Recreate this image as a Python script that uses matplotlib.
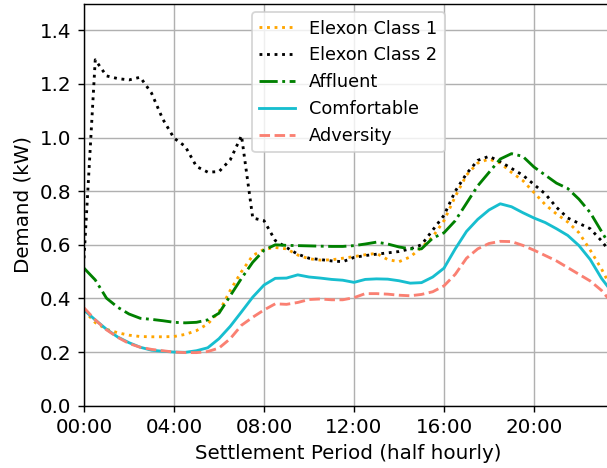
import matplotlib
matplotlib.use("Agg")
import matplotlib.pyplot as plt
import numpy as np

periods = np.arange(48)
tick_pos = [0, 8, 16, 24, 32, 40]
tick_labels = ["00:00", "04:00", "08:00", "12:00", "16:00", "20:00"]

elexon1 = [0.355, 0.31, 0.285, 0.272, 0.263, 0.258, 0.257, 0.257, 0.258, 0.266,
           0.28, 0.305, 0.35, 0.43, 0.50, 0.56, 0.583, 0.59, 0.585, 0.562,
           0.548, 0.543, 0.544, 0.55, 0.556, 0.563, 0.568, 0.545, 0.537, 0.555,
           0.59, 0.63, 0.69, 0.78, 0.86, 0.905, 0.92, 0.905, 0.87, 0.84,
           0.795, 0.75, 0.715, 0.685, 0.645, 0.58, 0.51, 0.43]
elexon2 = [0.55, 1.29, 1.23, 1.22, 1.215, 1.225, 1.166, 1.069, 0.998, 0.967,
           0.892, 0.871, 0.873, 0.917, 1.007, 0.70, 0.69, 0.616, 0.59, 0.565,
           0.55, 0.545, 0.54, 0.537, 0.553, 0.56, 0.565, 0.57, 0.575, 0.585,
           0.60, 0.655, 0.71, 0.80, 0.865, 0.915, 0.93, 0.91, 0.885, 0.86,
           0.825, 0.79, 0.74, 0.70, 0.68, 0.66, 0.615, 0.56]
affluent = [0.513, 0.469, 0.401, 0.367, 0.342, 0.326, 0.322, 0.317, 0.311, 0.309,
            0.311, 0.32, 0.345, 0.41, 0.475, 0.535, 0.58, 0.60, 0.598, 0.597,
            0.596, 0.595, 0.594, 0.594, 0.597, 0.603, 0.61, 0.603, 0.592, 0.585,
            0.585, 0.625, 0.645, 0.69, 0.755, 0.82, 0.87, 0.92, 0.94, 0.93,
            0.89, 0.86, 0.83, 0.81, 0.77, 0.72, 0.65, 0.58]
comfortable = [0.357, 0.32, 0.285, 0.256, 0.235, 0.218, 0.207, 0.203, 0.2, 0.199,
               0.205, 0.216, 0.25, 0.296, 0.35, 0.405, 0.45, 0.475, 0.476, 0.488,
               0.48, 0.476, 0.471, 0.468, 0.46, 0.471, 0.473, 0.472, 0.466, 0.457,
               0.459, 0.48, 0.513, 0.585, 0.65, 0.695, 0.73, 0.753, 0.742, 0.72,
               0.70, 0.683, 0.66, 0.635, 0.597, 0.545, 0.475, 0.42]
adversity = [0.365, 0.32, 0.283, 0.255, 0.232, 0.218, 0.21, 0.205, 0.2, 0.198,
             0.198, 0.202, 0.215, 0.25, 0.3, 0.33, 0.357, 0.38, 0.378, 0.385,
             0.396, 0.398, 0.395, 0.395, 0.403, 0.418, 0.418, 0.416, 0.412, 0.41,
             0.415, 0.425, 0.447, 0.49, 0.55, 0.585, 0.605, 0.613, 0.612, 0.598,
             0.58, 0.56, 0.54, 0.515, 0.49, 0.465, 0.43, 0.38]

DPI = 128
fig = plt.figure(figsize=(607 / DPI, 468 / DPI), dpi=DPI)
ax = fig.add_axes([84 / 607, 62.3 / 468, 528.75 / 607, 402.2 / 468])

lw = 1.6
ax.plot(periods, elexon1, linestyle=":", color="orange", lw=lw, label="Elexon Class 1")
ax.plot(periods, elexon2, linestyle=":", color="black", lw=lw, label="Elexon Class 2")
ax.plot(periods, affluent, linestyle="-.", color="green", lw=lw, label="Affluent")
ax.plot(periods, comfortable, linestyle="-", color="#17becf", lw=lw, label="Comfortable")
ax.plot(periods, adversity, linestyle="--", color="salmon", lw=lw, label="Adversity")

fs = 11.2
ax.set_xlim(0, 47)
ax.set_ylim(0, 1.5)
ax.set_xticks(tick_pos)
ax.set_xticklabels(tick_labels)
ax.set_yticks(np.arange(0, 1.41, 0.2))
ax.grid(True, color="#b0b0b0", linewidth=0.8)
ax.tick_params(labelsize=fs)
ax.set_xlabel("Settlement Period (half hourly)", fontsize=fs)
ax.set_ylabel("Demand (kW)", fontsize=fs)
ax.legend(loc="upper center", fontsize=10)

fig.savefig("out.png", dpi=DPI)
